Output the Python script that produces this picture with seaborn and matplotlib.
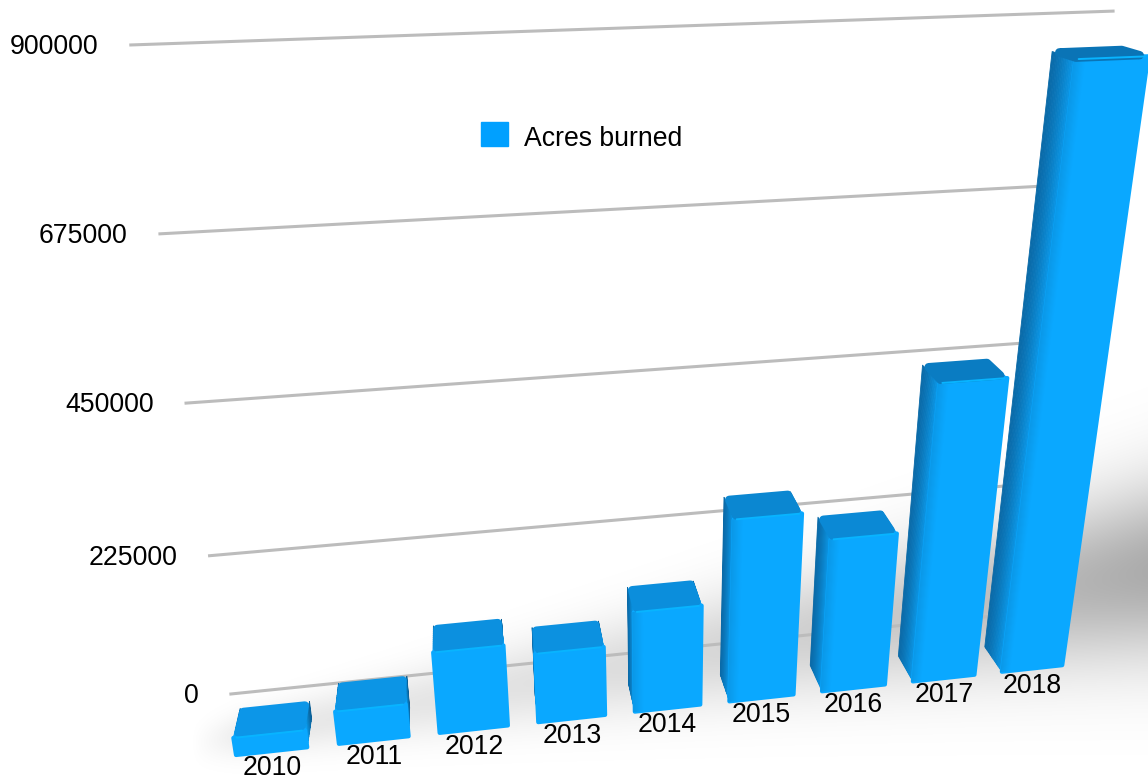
import numpy as np
import pandas as pd
import seaborn as sns
import matplotlib.pyplot as plt
import matplotlib.transforms as mtransforms
from matplotlib.colors import to_rgb
from matplotlib.patches import Patch, Polygon

YEARS = ['2010', '2011', '2012', '2013', '2014', '2015', '2016', '2017', '2018']
ACRES = [27600, 52000, 128800, 110600, 160400, 287200, 243700, 459800, 864000]
GRID_VALUES = [0, 225000, 450000, 675000, 900000]
GRID_LABELS = ['0', '225000', '450000', '675000', '900000']
SERIES = 'Acres burned'

WIDTH, HEIGHT = 1148, 780
BAR_WIDTH = 0.69
FRONT = '#0aa8ff'
EDGE = '#0a98e8'
FONT_SIZE = 19.2

# camera: origin and vanishing points in image pixels
ORIGIN = np.array([236.0, 755.0])
VP_X = np.array([9850.0, -290.0])
VP_Y = np.array([662.0, 3500.0])
VP_D = np.array([440.0, -150.0])
ALPHA, BETA = 0.094, -0.2015
CAT_STEP = 0.1151
BAR_DEPTH, WALL_DEPTH = 0.035, 0.0748


def project(x, v, d):
    """(category, value, depth) to display pixels"""
    x, v, d = np.asarray(x, float), np.asarray(v, float), np.asarray(d, float)
    s = ALPHA * CAT_STEP * (x + BAR_WIDTH / 2)
    k = BETA * v / 900000
    w = 1 + s + k + d
    px = (ORIGIN[0] + s * VP_X[0] + k * VP_Y[0] + d * VP_D[0]) / w
    py = (ORIGIN[1] + s * VP_X[1] + k * VP_Y[1] + d * VP_D[1]) / w
    return px, HEIGHT - py


class Perspective(mtransforms.Transform):
    input_dims = output_dims = 2
    is_affine = False

    def __init__(self, plane):
        super().__init__()
        self.plane = plane

    def transform_non_affine(self, values):
        values = np.asarray(values, float)
        return np.column_stack(project(values[:, 0], values[:, 1], self.plane))


def mix(a, b, t):
    a, b = np.array(to_rgb(a)), np.array(to_rgb(b))
    return tuple(a + (b - a) * t)


def face(ax, xs, vs, ds, color, z, lw=0.6, join='miter'):
    pts = np.column_stack(project(xs, vs, ds))
    ax.add_patch(Polygon(pts, closed=True, facecolor=color, edgecolor=color, linewidth=lw,
                         joinstyle=join, transform=mtransforms.IdentityTransform(),
                         clip_on=False, zorder=z))


def side(ax, x, value, dark, light, z):
    steps = np.linspace(BAR_DEPTH - 0.001, 0, 15)
    for j in range(len(steps) - 1):
        t = (j / (len(steps) - 2)) ** 1.3
        face(ax, [x, x, x, x], [0, value, value, 0],
             [steps[j], steps[j], steps[j + 1], steps[j + 1]], mix(dark, light, t), z, join='round')


def soft_edge(ax, x0, value, z):
    # the rounded vertical edge runs a little onto the front face
    steps = np.linspace(-0.015, 0.1, 12)
    for j in range(len(steps) - 1):
        face(ax, [x0 + steps[j], x0 + steps[j + 1], x0 + steps[j + 1], x0 + steps[j]],
             [0, 0, value, value], [0, 0, 0, 0], mix(EDGE, FRONT, j / 10), z, lw=0.3)


def shadow():
    yy, xx = np.mgrid[0:HEIGHT, 0:WIDTH]
    t = np.clip((xx - 200) / 950, 0, 1)
    centre = 742 - 172 * t
    sigma = 14 + 48 * t
    fade = np.clip((xx - 190) / 60, 0, 1)
    dark = fade * (0.09 + 0.24 * t ** 2.0) * np.exp(-0.5 * ((yy - centre) / sigma) ** 2)
    img = np.zeros((HEIGHT, WIDTH, 4))
    img[..., 3] = dark
    return img


sns.set_theme(style='white')
plt.rcParams['font.family'] = ['Liberation Sans', 'DejaVu Sans']

fig = plt.figure(figsize=(WIDTH / 100, HEIGHT / 100), dpi=100)
fig.figimage(shadow(), origin='upper', zorder=-1)
ax = fig.add_axes([0, 0, 1, 1])

data = pd.DataFrame({'year': YEARS, 'acres': ACRES})
sns.barplot(data=data, x='year', y='acres', color=FRONT, saturation=1, width=BAR_WIDTH, ax=ax)
ax.set_axis_off()

# wall gridlines and value labels
wall = Perspective(WALL_DEPTH)
for value, label in zip(GRID_VALUES, GRID_LABELS):
    ax.plot([-0.56, 8.52], [value, value], color='#bcbcbc', linewidth=2.2, transform=wall,
            clip_on=False, zorder=1, solid_capstyle='butt')
    ax.annotate(label, xy=(-0.56, value), xycoords=wall, xytext=(-22, -1.2), textcoords='offset points',
                ha='right', va='center', fontsize=FONT_SIZE, color='black')

# bars: seaborn draws the fronts, sides and tops are added around them
front = Perspective(0)
bars = list(ax.patches)
for i, patch in enumerate(bars):
    value = ACRES[i]
    x0, x1 = i - BAR_WIDTH / 2, i + BAR_WIDTH / 2
    z = 3 + i * 0.1
    shows_left = i >= 4
    side(ax, x0, value, '#0a6aa8', EDGE if shows_left else FRONT, z)
    side(ax, x1, value, '#0a5f96', FRONT, z)
    patch.set_transform(front)
    patch.set_clip_on(False)
    patch.set_edgecolor(FRONT)
    patch.set_linewidth(3)
    patch.set_joinstyle('round')
    patch.set_zorder(z + 0.01)
    if shows_left:
        soft_edge(ax, x0, value, z + 0.015)
    top = mix('#0c98ea', '#0a74b6', min(value / 600000, 1))
    inset = 0.04
    face(ax, [x0 + inset, x1 - inset, x1 - inset, x0 + inset], [value] * 4,
         [0.0055, 0.0055, BAR_DEPTH - 0.0055, BAR_DEPTH - 0.0055], top, z + 0.02, lw=6, join='round')
    ax.plot([x0 + 0.03, x1 - 0.03], [value, value], color='#08b4ff', linewidth=1.4, transform=front,
            clip_on=False, zorder=z + 0.03, solid_capstyle='round')
    ax.annotate(YEARS[i], xy=(i, 0), xycoords=front, xytext=(0, -12.5), textcoords='offset points',
                ha='center', va='center', fontsize=FONT_SIZE, color='black', zorder=z + 0.04)

legend = ax.legend(handles=[Patch(color='#00a0ff', label=SERIES)], loc='upper left',
                   bbox_to_anchor=(481 / WIDTH, 1 - 122 / HEIGHT), bbox_transform=fig.transFigure,
                   frameon=False, fontsize=FONT_SIZE, handlelength=1.02, handleheight=1.02,
                   handletextpad=0.6, borderpad=0, borderaxespad=0, labelcolor='black')
legend.get_texts()[0].set_y(-3)

fig.savefig('out.png', dpi=100)
